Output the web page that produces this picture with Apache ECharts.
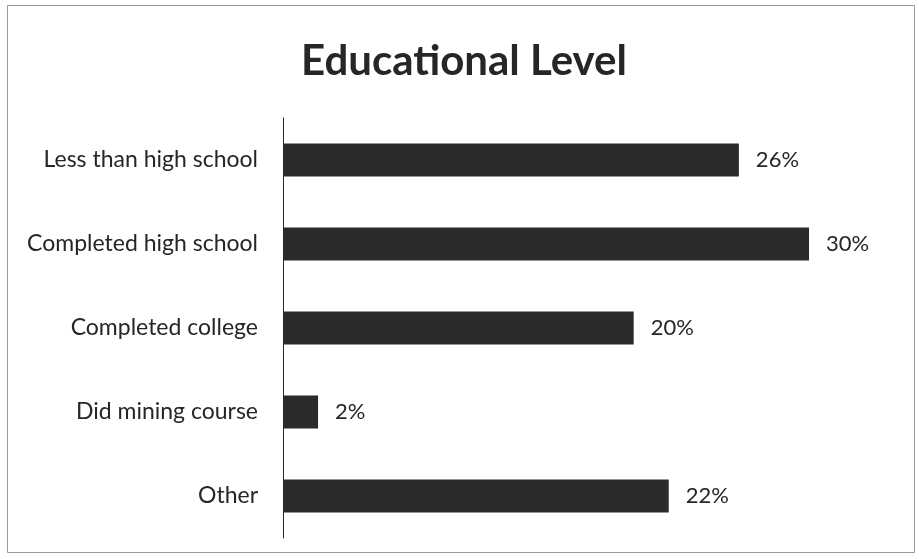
<!DOCTYPE html>
<html>
<head>
<meta charset="utf-8">
<script src="https://cdn.jsdelivr.net/npm/echarts@6/dist/echarts.min.js"></script>
<style>
  html, body { margin: 0; padding: 0; background: #fff; }
  #chart { width: 919px; height: 559px; }
</style>
</head>
<body>
<div id="chart"></div>
<script>
// Survey responses by educational level (share of respondents, %)
const categories = [
  'Less than high school',
  'Completed high school',
  'Completed college',
  'Did mining course',
  'Other'
];
const shares = [26, 30, 20, 2, 22];

const chart = echarts.init(document.getElementById('chart'), null, { renderer: 'canvas' });
const textColor = '#262626';
const font = 'Lato, "Open Sans", sans-serif';

chart.setOption({
  animation: false,
  backgroundColor: '#fff',
  title: {
    text: 'Educational Level',
    left: 301,
    top: 40,
    padding: 0,
    textStyle: { fontFamily: font, fontSize: 42, fontWeight: 'bold', color: textColor }
  },
  graphic: [{
    type: 'rect',
    shape: { x: 7.5, y: 5.5, width: 907, height: 547 },
    style: { fill: 'none', stroke: '#9a9a9a', lineWidth: 1 },
    silent: true
  }],
  grid: { left: 283, right: 110, top: 118, bottom: 21, containLabel: false },
  xAxis: {
    type: 'value',
    min: 0,
    max: 30,
    show: false
  },
  yAxis: {
    type: 'category',
    data: categories,
    inverse: true,
    axisLine: { show: true, lineStyle: { color: '#262626', width: 1 } },
    axisTick: { show: false },
    axisLabel: { margin: 25, fontFamily: font, fontSize: 23, color: textColor }
  },
  series: [{
    type: 'bar',
    data: shares,
    barWidth: 33,
    itemStyle: { color: '#2a2a2a' },
    label: {
      show: true,
      position: 'right',
      distance: 17,
      formatter: p => p.value + '%',
      fontFamily: font,
      fontSize: 22,
      color: textColor
    }
  }]
});
</script>
</body>
</html>
